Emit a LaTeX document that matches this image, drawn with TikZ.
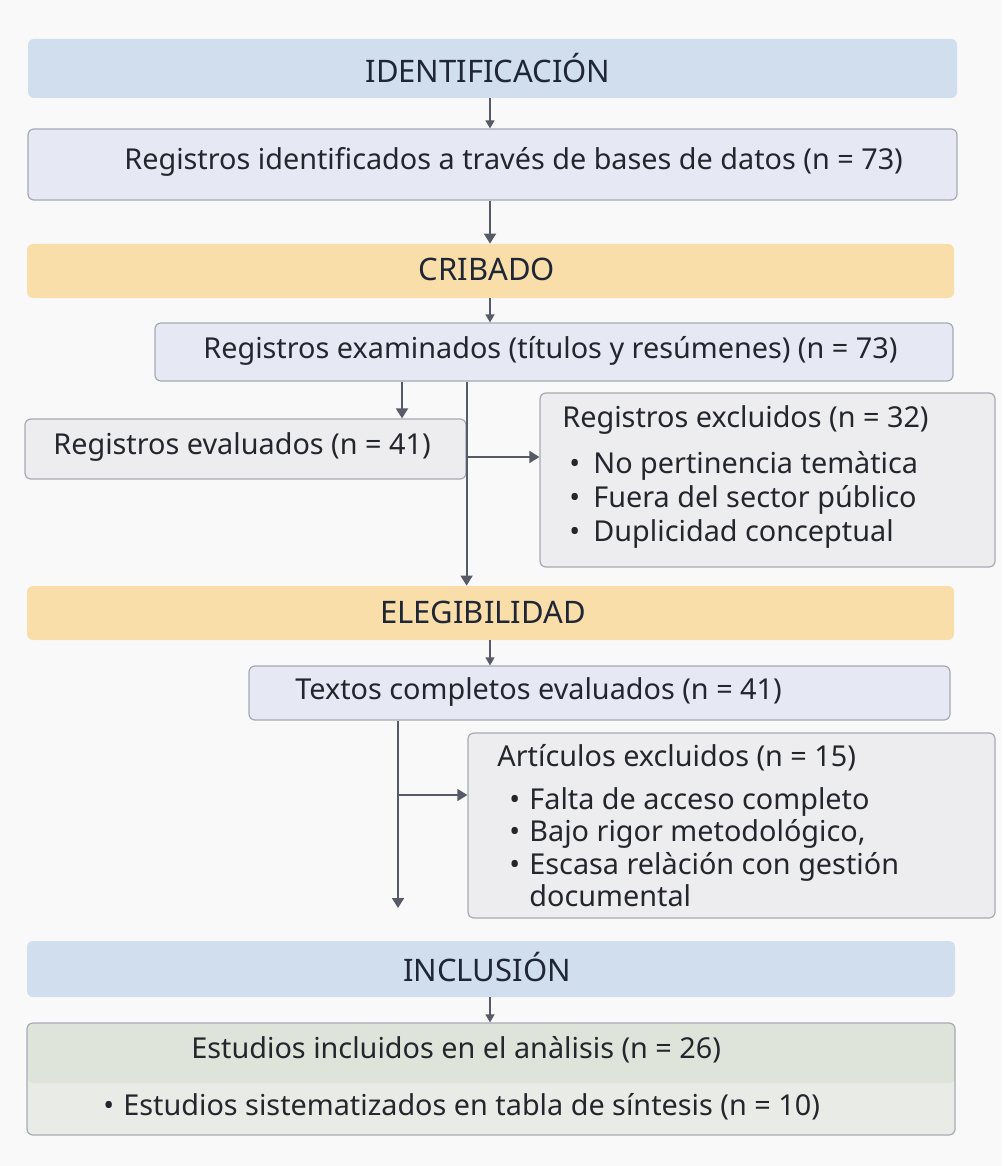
\documentclass[tikz,border=0pt]{standalone}
\usepackage{fontspec}
\setmainfont{Noto Sans}
\usetikzlibrary{arrows.meta}

\definecolor{bgcol}{HTML}{FAF9FA}
\definecolor{hdblue}{HTML}{D0DEEE}
\definecolor{hdorange}{HTML}{F9DEA9}
\definecolor{boxfill}{HTML}{E6E9F3}
\definecolor{greyfill}{HTML}{EDEDF0}
\definecolor{boxline}{HTML}{A7AAB4}
\definecolor{greenup}{HTML}{DFE4DA}
\definecolor{greenlow}{HTML}{E9ECE6}
\definecolor{arrcol}{HTML}{575B67}
\definecolor{hdtext}{HTML}{1F2636}
\definecolor{bodytext}{HTML}{23262C}

\begin{document}
\begin{tikzpicture}[x=0.5pt,y=-0.5pt,
    phase/.style={rounded corners=3pt, inner sep=0pt, text=hdtext, font=\fontsize{15.5}{18}\selectfont},
    stepbox/.style={rounded corners=3pt, draw=boxline, line width=0.6pt, inner sep=0pt},
    txt/.style={anchor=west, inner sep=0pt, text=bodytext, font=\fontsize{14.4}{17}\selectfont},
    arr/.style={draw=arrcol, line width=0.9pt, -{Triangle[width=6pt,length=5pt]}},
    thinarr/.style={draw=arrcol, line width=0.6pt, -{Triangle[width=4.5pt,length=4pt]}}
    ]
    \fill[bgcol] (0,0) rectangle (1002,1166);

    % identificacion
    \node [phase, fill=hdblue, minimum width=464.5pt, minimum height=29.5pt] (ident) at (492.5,68.5) {};
    \node [phase] (identT) at (488,68) {IDENTIFICACIÓN};
    \node [stepbox, fill=boxfill, minimum width=464.5pt, minimum height=35.5pt] (reg) at (492.5,164.5) {};
    \node [txt] (regT) at (124,162) {Registros identificados a través de bases de datos (n = 73)};

    % cribado
    \node [phase, fill=hdorange, minimum width=463.5pt, minimum height=27pt] (crib) at (490.5,271) {};
    \node [phase] (cribT) at (487,269) {CRIBADO};
    \node [stepbox, fill=boxfill, minimum width=399pt, minimum height=29pt] (exam) at (554,352) {};
    \node [txt] (examT) at (203,351) {Registros examinados (títulos y resúmenes) (n = 73)};
    \node [stepbox, fill=greyfill, minimum width=220.5pt, minimum height=30pt] (eval) at (245.5,449) {};
    \node [txt] (evalT) at (53,447) {Registros evaluados (n = 41)};
    \node [stepbox, fill=greyfill, minimum width=227.5pt, minimum height=87pt] (excl) at (767.5,480) {};
    \node [txt] (exclT) at (562,420) {Registros excluidos (n = 32)};
    \node [txt] (exclA) at (569,466) {\makebox[12pt][l]{•}No pertinencia temàtica};
    \node [txt] (exclB) at (569,500) {\makebox[12pt][l]{•}Fuera del sector público};
    \node [txt] (exclC) at (569,534) {\makebox[12pt][l]{•}Duplicidad conceptual};

    % elegibilidad
    \node [phase, fill=hdorange, minimum width=463.5pt, minimum height=27pt] (eleg) at (490.5,613) {};
    \node [phase] (elegT) at (483,612) {ELEGIBILIDAD};
    \node [stepbox, fill=boxfill, minimum width=350.5pt, minimum height=27pt] (textos) at (599.5,693) {};
    \node [txt] (textosT) at (295,692) {Textos completos evaluados (n = 41)};
    \node [stepbox, fill=greyfill, minimum width=263.5pt, minimum height=92.5pt] (artic) at (731.5,825.5) {};
    \node [txt] (articT) at (497,758) {Artículos excluidos (n = 15)};
    \node [txt] (articA) at (509,802) {\makebox[10pt][l]{•}Falta de acceso completo};
    \node [txt] (articB) at (509,834) {\makebox[10pt][l]{•}Bajo rigor metodológico,};
    \node [txt] (articC) at (509,867) {\makebox[10pt][l]{•}Escasa relàción con gestión};
    \node [txt] (articD) at (529,896) {documental};

    % inclusion
    \node [phase, fill=hdblue, minimum width=464pt, minimum height=28pt] (incl) at (491,969) {};
    \node [phase] (inclT) at (487,967) {INCLUSIÓN};
    \node [stepbox, fill=greenlow, minimum width=464pt, minimum height=56pt,
        path picture={\fill[greenup] (path picture bounding box.north west) rectangle ([yshift=-30pt]path picture bounding box.north east);}] (estud) at (491,1079) {};
    \node [txt] (estudT) at (191,1050) {Estudios incluidos en el anàlisis (n = 26)};
    \node [txt] (estudA) at (103,1107) {\makebox[10pt][l]{•}Estudios sistematizados en tabla de síntesis (n = 10)};

    % connectors
    \coordinate (mid) at (490,0);
    \coordinate (leftdrop) at (402,0);
    \coordinate (hexcl) at (0,457);
    \coordinate (textdrop) at (398,908);
    \coordinate (hartic) at (0,795);

    \draw [thinarr] (ident.south -| mid) -- (reg.north -| mid);
    \draw [arr] (reg.south -| mid) -- (crib.north -| mid);
    \draw [thinarr] (crib.south -| mid) -- (exam.north -| mid);
    \draw [arr] (exam.south -| leftdrop) -- (eval.north -| leftdrop);
    \draw [arr] (exam.south -| eval.east) -- (eleg.north -| eval.east);
    \draw [arr, line width=0.7pt] (eval.east |- hexcl) -- (excl.west |- hexcl);
    \draw [thinarr] (eleg.south -| mid) -- (textos.north -| mid);
    \draw [arr] (textos.south -| textdrop) -- (textdrop);
    \draw [arr, line width=0.7pt] (textdrop |- hartic) -- (artic.west |- hartic);
    \draw [thinarr] (incl.south -| mid) -- (estud.north -| mid);
\end{tikzpicture}
\end{document}
